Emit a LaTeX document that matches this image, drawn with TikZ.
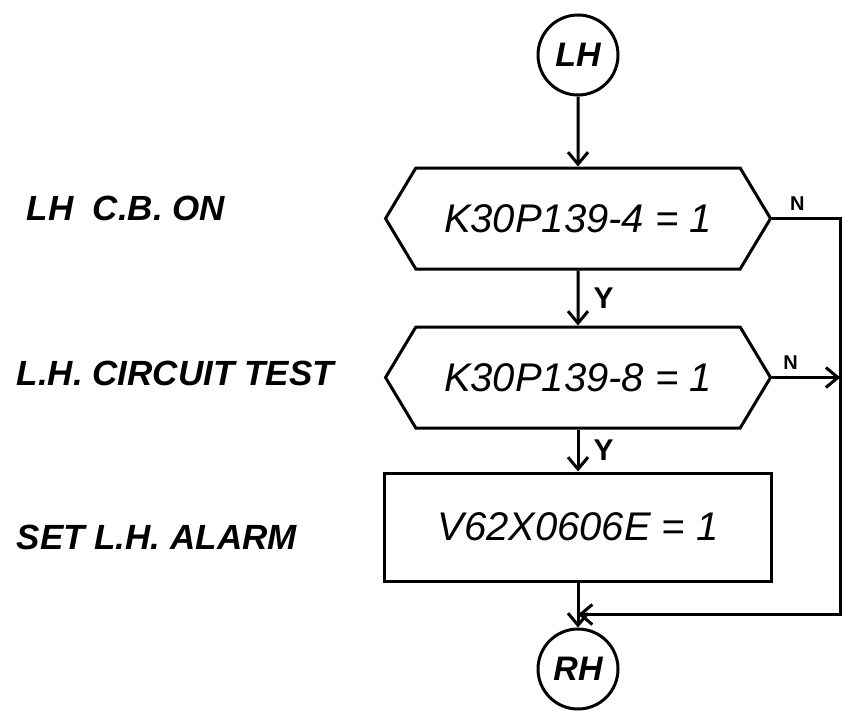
\documentclass[tikz,border=0pt]{standalone}
\usepackage{fontspec}
\setmainfont{Liberation Sans}
\usetikzlibrary{positioning, arrows.meta, shapes.symbols}

\begin{document}
\begin{tikzpicture}[x=1pt, y=-1pt,
  line width=3pt,
  conn/.style={draw, circle, minimum size=80pt, inner sep=0pt,
               font=\fontsize{34}{34}\selectfont\bfseries\itshape},
  test/.style={draw, signal, signal to=west and east, signal pointer angle=118,
               minimum width=385pt, minimum height=101pt, inner sep=0pt,
               font=\fontsize{40}{40}\selectfont\itshape},
  act/.style={draw, minimum width=387pt, minimum height=108pt,
              font=\fontsize{40}{40}\selectfont\itshape},
  note/.style={anchor=west, font=\fontsize{35}{35}\selectfont\bfseries\itshape},
  yes/.style={right, inner sep=14pt, font=\fontsize{30}{30}\selectfont\bfseries},
  no/.style={above, inner sep=7pt, font=\fontsize{20}{20}\selectfont\bfseries},
  arr/.style={-{Straight Barb[length=12pt, width=20pt]}}]
  \useasboundingbox (0,0) rectangle (843,715);
  \node[conn] (lh) at (578,55) {LH};
  \node[test, below=70pt of lh] (t1) {K30P139-4 = 1};
  \node[test, below=55pt of t1] (t2) {K30P139-8 = 1};
  \node[act, below=42pt of t2] (al) {V62X0606E = 1};
  \node[conn, below=45pt of al] (rh) {RH};
  \coordinate[below=32pt of al.south] (jn);
  \coordinate[right=68pt of t1.east] (rt);
  % left-hand notes
  \node[note] (n1) at (22,208) {LH\ \ C.B. ON};
  \node[note] (n2) at (12,373) {L.H. CIRCUIT TEST};
  \node[note] (n3) at (12,537) {SET L.H. ALARM};
  \draw[arr] (lh)--(t1);
  \draw[arr] (t1)-- node[yes] {Y} (t2);
  \draw[arr] (t2)-- node[yes] {Y} (al);
  \draw[arr] (al)--(rh);
  \draw[arr] (t1.east)-- node[no, pos=0.37] {N} (rt) |- (jn);
  \draw[arr] (t2.east)-- node[no, pos=0.27] {N} (t2.east -| rt);
\end{tikzpicture}
\end{document}
